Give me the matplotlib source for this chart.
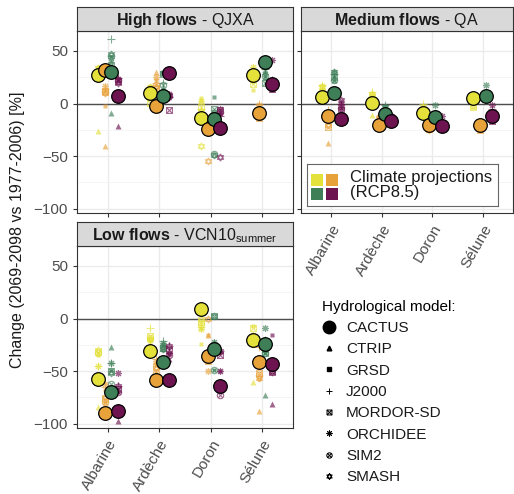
import numpy as np
import matplotlib
matplotlib.use("Agg")
import matplotlib.pyplot as plt
from matplotlib.path import Path
from matplotlib.lines import Line2D

plt.rcParams['font.family'] = ['Liberation Sans', 'DejaVu Sans']
plt.rcParams['mathtext.fontset'] = 'custom'
plt.rcParams['mathtext.rm'] = 'Liberation Sans'
plt.rcParams['mathtext.bf'] = 'Liberation Sans:bold'
plt.rcParams['mathtext.it'] = 'Liberation Sans:italic'

rivers = ["Albarine", "Ardèche", "Doron", "Sélune"]
projections = ["P1", "P2", "P3", "P4"]
proj_colors = ["#E4E13A", "#E8A23A", "#3E7F58", "#6D1450"]
models = ["CACTUS", "CTRIP", "GRSD", "J2000", "MORDOR-SD", "ORCHIDEE", "SIM2", "SMASH"]

# values: one row per model, 16 values = 4 rivers x 4 projections
high_flows = [
    [27, 32, 30, 7, 10, -2, 7, 29, -14, -24, -15, -23, 27, -9, 40, 19],
    [-26, -40, -9, -21, 5, 30, 15, 8, 3, -19, -10, -8, 30, -5, 25, 22],
    [35, -2, 40, 22, 17, 22, 30, 5, 5, -20, 6, -10, 13, -12, 30, 13],
    [30, 14, 61, 24, 12, 20, 20, 6, -5, -22, -15, -12, 33, 0, 33, 22],
    [25, 12, 37, 21, 1, 14, 28, -6, -3, -25, -5, -6, 19, -14, 20, 14],
    [33, 17, 43, 23, 15, 25, 12, 9, 2, -18, -8, -5, 35, -1, 28, 41],
    [28, 11, 45, 22, 14, 18, 18, 7, -8, -23, -48, -8, 22, -10, 26, 18],
    [34, 10, 47, 20, 16, 16, 29, 8, -40, -55, -49, -51, 30, -11, 35, 20],
]
medium_flows = [
    [6, -12, 10, -15, 1, -20, -10, -17, -9, -20, -13, -21, 5, -20, 7, -12],
    [10, -37, 22, -3, -11, -15, -5, -14, -5, -20, -10, -17, 2, -22, 5, -10],
    [14, -8, 25, 2, 5, -18, -8, -15, -7, -22, -12, -19, 3, -19, 4, -14],
    [18, -6, 28, 0, 11, -16, -1, -13, 0, -19, -10, -18, 8, -18, 9, -5],
    [4, -22, 25, -6, 3, -20, -8, -16, -8, -24, -13, -20, -3, -25, 6, -17],
    [17, -10, 30, -1, 9, -13, -4, -12, -3, -17, -1, -12, 5, -23, 18, -1],
    [12, -15, 22, -4, 6, -18, -9, -14, -6, -21, -11, -18, 4, -21, 8, -15],
    [16, -20, 30, 3, 9, -14, -3, -12, -4, -25, -9, -19, -2, -24, 10, -16],
]
low_flows = [
    [-57, -90, -70, -88, -31, -58, -41, -58, 9, -36, -29, -64, -20, -41, -24, -43],
    [-84, -79, -27, -97, -25, -52, -24, -38, -8, -16, -22, -31, -60, -88, -73, -81],
    [-35, -68, -49, -70, -21, -43, -30, -34, -24, -16, -49, -50, -7, -57, -33, -16],
    [-45, -65, -42, -64, -9, -38, -21, -26, -8, -36, -30, -31, -22, -27, -20, -40],
    [-32, -76, -50, -67, -17, -45, -28, -30, -3, -40, 2, -35, -9, -52, -33, -51],
    [-45, -62, -42, -52, -20, -40, -23, -33, -10, -50, -22, -50, -16, -45, -9, -41],
    [-33, -79, -62, -70, -18, -52, -26, -35, -5, -38, -49, -73, -24, -54, -33, -49],
    [-30, -75, -52, -64, -19, -47, -29, -26, 0, 0, 2, -31, -20, -56, -30, -51],
]

# custom marker shapes (ggplot-like)
sq_x = Path([(-1, -1), (1, -1), (1, 1), (-1, 1), (-1, -1), (-1, -1), (1, 1), (-1, 1), (1, -1)],
            [1, 2, 2, 2, 2, 1, 2, 1, 2])
circ = Path.unit_circle()
d = 0.707
circ_x = Path.make_compound_path(circ, Path([(-d, -d), (d, d), (-d, d), (d, -d)], [1, 2, 1, 2]))
t1 = Path([(0, 1), (-0.866, -0.5), (0.866, -0.5), (0, 1)], [1, 2, 2, 2])
t2 = Path([(0, -1), (-0.866, 0.5), (0.866, 0.5), (0, -1)], [1, 2, 2, 2])
hexa = Path.make_compound_path(t1, t2)

model_style = {
    "CTRIP": dict(marker="^", ms=4.0, filled=True),
    "GRSD": dict(marker="s", ms=3.4, filled=True),
    "J2000": dict(marker="+", ms=5.5, filled=False),
    "MORDOR-SD": dict(marker=sq_x, ms=4.2, filled=False),
    "ORCHIDEE": dict(marker=(8, 2, 0), ms=5.0, filled=False),
    "SIM2": dict(marker=circ_x, ms=4.6, filled=False),
    "SMASH": dict(marker=hexa, ms=5.2, filled=False),
}

W, H = 514, 494
fig = plt.figure(figsize=(W / 100, H / 100), dpi=100)

def box(l, t, r, b):
    return [l / W, 1 - b / H, (r - l) / W, (b - t) / H]

offsets = np.array([-0.1875, -0.0625, 0.0625, 0.1875])
xpos = np.arange(1, 5)

def panel(rect, strip_rect, label, data, ylabels=True, xlabels=True):
    ax = fig.add_axes(rect)
    ax.set_xlim(0.4, 4.6)
    ax.set_ylim(-104, 69)
    ax.set_yticks([-100, -50, 0, 50])
    ax.set_yticks([-75, -25, 25], minor=True)
    ax.set_xticks(xpos)
    ax.grid(True, which="major", color="#EBEBEB", lw=1.0)
    ax.grid(True, which="minor", axis="y", color="#F4F4F4", lw=0.6)
    ax.set_axisbelow(True)
    for s in ax.spines.values():
        s.set_color("#333333")
        s.set_linewidth(0.8)
    ax.tick_params(axis="both", which="major", length=3, color="#333333",
                   labelcolor="#4D4D4D", labelsize=11)
    ax.tick_params(axis="y", which="minor", length=0)
    ax.axhline(0, color="#4D4D4D", lw=1.0, zorder=1)
    if xlabels:
        ax.set_xticklabels(rivers, rotation=60, ha="right", va="top", rotation_mode="anchor")
    else:
        ax.set_xticklabels([])
    if not ylabels:
        ax.set_yticklabels([])
    vals = np.array(data, dtype=float).reshape(len(models), len(rivers), len(projections))
    for j, col in enumerate(proj_colors):
        x = xpos + offsets[j]
        for m, name in enumerate(models[1:], start=1):
            st = model_style[name]
            if st["filled"]:
                ax.plot(x, vals[m, :, j], ls="none", marker=st["marker"], ms=st["ms"],
                        color=col, mec="none", alpha=0.65, zorder=2)
            else:
                ax.plot(x, vals[m, :, j], ls="none", marker=st["marker"], ms=st["ms"],
                        color=col, mfc="none", mew=0.8, alpha=0.65, zorder=2)
        ax.plot(x, vals[0, :, j], ls="none", marker="o", ms=9.8, mfc=col,
                mec="black", mew=0.9, zorder=3)
    sa = fig.add_axes(strip_rect)
    sa.set_facecolor("#D9D9D9")
    sa.set_xticks([])
    sa.set_yticks([])
    for s in sa.spines.values():
        s.set_color("#333333")
        s.set_linewidth(0.8)
    sa.text(0.5, 0.45, label, ha="center", va="center", fontsize=11.5, color="#1A1A1A")
    return ax

ax1 = panel(box(77, 31, 293, 213), box(77, 7, 293, 31),
            r"$\mathbf{High\ flows}$ - QJXA", high_flows, xlabels=False)
ax2 = panel(box(301, 31, 513, 213), box(301, 7, 513, 31),
            r"$\mathbf{Medium\ flows}$ - QA", medium_flows, ylabels=False)
ax3 = panel(box(77, 246, 293, 428), box(77, 222, 293, 246),
            r"$\mathbf{Low\ flows}$ - VCN10$_{\mathrm{summer}}$", low_flows)

fig.text(18 / W, 1 - 230 / H, "Change (2069-2098 vs 1977-2006) [%]", rotation=90,
         ha="center", va="center", fontsize=11.5, color="#1A1A1A")

# climate projections key
kb = fig.add_axes(box(307, 164, 498, 206))
kb.set_xlim(0, 191)
kb.set_ylim(42, 0)
kb.set_xticks([])
kb.set_yticks([])
for s in kb.spines.values():
    s.set_color("#666666")
    s.set_linewidth(0.8)
key_x = [10, 25, 10, 25]
key_y = [16, 16, 30, 30]
for kx, ky, col in zip(key_x, key_y, proj_colors):
    kb.scatter(kx, ky, marker="s", s=75, color=col, lw=0)
kb.text(43, 21, "Climate projections\n(RCP8.5)", ha="left", va="center",
        fontsize=12, linespacing=0.95, color="#1A1A1A")

# hydrological model legend
handles = [Line2D([], [], ls="none", marker="o", ms=9, color="black")]
for name in models[1:]:
    st = model_style[name]
    if st["filled"]:
        handles.append(Line2D([], [], ls="none", marker=st["marker"], ms=st["ms"] * 0.85,
                              color="black"))
    else:
        handles.append(Line2D([], [], ls="none", marker=st["marker"], ms=st["ms"] * 0.85,
                              color="black", mfc="none", mew=0.7))
leg = fig.legend(handles, models, loc="upper left", bbox_to_anchor=(311 / W, 1 - 289 / H),
                 frameon=False, title="Hydrological model:", fontsize=11,
                 title_fontsize=11, labelspacing=0.48, handlelength=1.0,
                 handletextpad=0.6, borderpad=0.2)
leg._legend_box.align = "left"
for t in leg.get_texts():
    t.set_color("#1A1A1A")

fig.savefig("out.png", dpi=100)
